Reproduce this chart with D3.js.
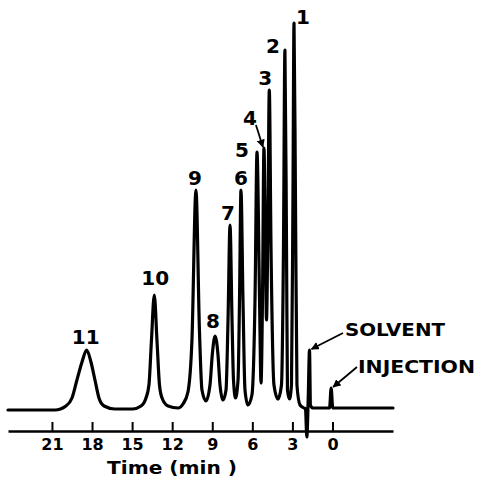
<!DOCTYPE html>
<html>
<head>
<meta charset="utf-8">
<script src="https://cdn.jsdelivr.net/npm/d3@7"></script>
<style>
  html, body { margin: 0; padding: 0; background: #fff; }
  svg { display: block; }
  text { font-family: "DejaVu Sans", sans-serif; fill: #000; }
</style>
</head>
<body>
<svg id="chart" width="478" height="477"></svg>
<script>
// ---- data ----
// detector trace: time (min) and signal (relative units, baseline = 0)
const traceTime = [24.29, 20.77, 19.95, 19.50, 19.13, 18.75, 18.40, 18.08, 17.78, 17.48, 17.10, 16.28,
  14.97, 14.33, 13.96, 13.74, 13.55, 13.34, 13.14, 12.95, 12.76, 12.31,
  11.56, 11.19, 10.82, 10.52, 10.22, 9.96, 9.77, 9.47,
  9.17, 9.00, 8.79, 8.57, 8.42, 8.20,
  7.97, 7.82, 7.67, 7.52, 7.41, 7.26,
  7.07, 6.96, 6.85, 6.70, 6.55, 6.33,
  6.03, 5.80, 5.65, 5.46, 5.35,
  5.24, 5.13, 5.01, 4.94,
  4.83, 4.73, 4.60, 4.38, 4.08,
  3.82, 3.67, 3.56, 3.44, 3.37, 3.22,
  3.07, 2.96, 2.88, 2.77, 2.66, 2.43, 2.13,
  2.02, 1.92, 1.82, 1.72, 1.65, 1.46,
  0.22, 0.10, -0.02, -4.53];
const traceSignal = [0, 0, 1.03, 3.08, 7.69, 12.31, 15.38, 12.31, 7.69, 3.08, 1.03, 0.26,
  0.26, 1.03, 3.08, 6.41, 17.95, 29.49, 17.95, 6.41, 3.08, 1.03,
  0.51, 1.54, 4.62, 17.95, 56.41, 20.51, 5.13, 2.31,
  6.41, 14.10, 18.97, 14.10, 6.41, 2.56,
  5.13, 23.08, 47.44, 23.08, 7.69, 3.08,
  7.69, 28.21, 56.41, 28.21, 5.13, 1.28,
  3.85, 28.21, 66.15, 28.21, 6.92,
  28.21, 67.18, 38.46, 23.08,
  48.72, 82.05, 41.03, 6.41, 2.82,
  6.41, 41.03, 92.31, 41.03, 5.13, 2.82,
  6.41, 53.85, 99.23, 53.85, 6.41, 1.28, 0.51,
  0.26, -6.92, 2.56, 15.38, 1.28, 0.51,
  0.51, 5.64, 0.51, 0.51];

// numbered peaks
const peakLabels  = ["1", "2", "3", "4", "5", "6", "7", "8", "9", "10", "11"];
const peakTimes   = [2.88, 3.56, 4.73, 5.13, 5.65, 6.85, 7.67, 8.79, 10.22, 13.34, 18.40];
const peakHeights = [99.23, 92.31, 82.05, 67.18, 66.15, 56.41, 47.44, 18.97, 56.41, 29.49, 15.38];

// annotated events
const eventLabels  = ["SOLVENT", "INJECTION"];
const eventTimes   = [1.72, 0.10];
const eventHeights = [15.38, 5.64];

// axis
const tickValues = [21, 18, 15, 12, 9, 6, 3, 0];
const axisTitle = "Time (min )";

// ---- layout ----
const svg = d3.select("#chart");
const x = d3.scaleLinear().domain([24.29, -4.53]).range([8, 393]);
const y = d3.scaleLinear().domain([0, 100]).range([410, 20]);
const axisY = 431;

// label offsets relative to apex (pixels) — layout only
const labelOffsets = {
  "1": [9, -6], "2": [-12, -4], "3": [-4, -12], "4": [-14, -30], "5": [-15, -2],
  "6": [0, -12], "7": [-2, -12], "8": [-2, -15], "9": [-1, -12], "10": [1, -17], "11": [-1, -13]
};

// arrowhead marker
const defs = svg.append("defs");
defs.append("marker")
  .attr("id", "arrow")
  .attr("viewBox", "0 0 10 10")
  .attr("refX", 9).attr("refY", 5)
  .attr("markerWidth", 4.5).attr("markerHeight", 4.5)
  .attr("markerUnits", "strokeWidth")
  .attr("orient", "auto")
  .append("path").attr("d", "M0,0L10,5L0,10z").attr("fill", "#000");

// x axis
const axis = d3.axisBottom(x)
  .tickValues(tickValues)
  .tickSize(-9)
  .tickSizeOuter(0)
  .tickPadding(8)
  .tickFormat(d3.format("d"));

const gAxis = svg.append("g")
  .attr("transform", `translate(0,${axisY})`)
  .call(axis);
gAxis.select(".domain").attr("stroke", "#000").attr("stroke-width", 2.6);
gAxis.selectAll(".tick line").attr("stroke", "#000").attr("stroke-width", 2);
gAxis.selectAll(".tick text")
  .attr("font-family", "DejaVu Sans, sans-serif")
  .attr("font-weight", "bold")
  .attr("font-size", 16)
  .attr("fill", "#000");

svg.append("text")
  .attr("x", 172).attr("y", 474)
  .attr("text-anchor", "middle")
  .attr("font-size", 17)
  .attr("font-weight", "bold")
  .attr("textLength", 130)
  .attr("lengthAdjust", "spacingAndGlyphs")
  .text(axisTitle);

// trace
const pts = traceTime.map((t, i) => [t, traceSignal[i]]);
const line = d3.line()
  .x(d => x(d[0]))
  .y(d => y(d[1]))
  .curve(d3.curveMonotoneX);

svg.append("path")
  .datum(pts)
  .attr("d", line)
  .attr("fill", "none")
  .attr("stroke", "#000")
  .attr("stroke-width", 3.2)
  .attr("stroke-linejoin", "round")
  .attr("stroke-linecap", "round");

// peak labels
peakLabels.forEach((lab, i) => {
  const px = x(peakTimes[i]), py = y(peakHeights[i]);
  const off = labelOffsets[lab];
  svg.append("text")
    .attr("x", px + off[0]).attr("y", py + off[1])
    .attr("dy", "0.36em")
    .attr("text-anchor", "middle")
    .attr("font-size", 20)
    .attr("font-weight", "bold")
    .text(lab);
  if (lab === "4") {
    svg.append("line")
      .attr("x1", px + off[0] + 6).attr("y1", py + off[1] + 7)
      .attr("x2", px - 1).attr("y2", py - 1)
      .attr("stroke", "#000").attr("stroke-width", 1.8)
      .attr("marker-end", "url(#arrow)");
  }
});

// event annotations
const eventLayout = [
  { tx: 345, ty: 330, len: 100, ax: 343, ay: 333 },
  { tx: 358, ty: 367, len: 117, ax: 357, ay: 367 }
];
eventLabels.forEach((lab, i) => {
  const L = eventLayout[i];
  const px = x(eventTimes[i]), py = y(eventHeights[i]);
  svg.append("text")
    .attr("x", L.tx).attr("y", L.ty)
    .attr("dy", "0.36em")
    .attr("font-size", 17)
    .attr("font-weight", "bold")
    .attr("textLength", L.len)
    .attr("lengthAdjust", "spacingAndGlyphs")
    .text(lab);
  svg.append("line")
    .attr("x1", L.ax).attr("y1", L.ay)
    .attr("x2", px + 2).attr("y2", py - 1)
    .attr("stroke", "#000").attr("stroke-width", 1.8)
    .attr("marker-end", "url(#arrow)");
});
</script>
</body>
</html>
